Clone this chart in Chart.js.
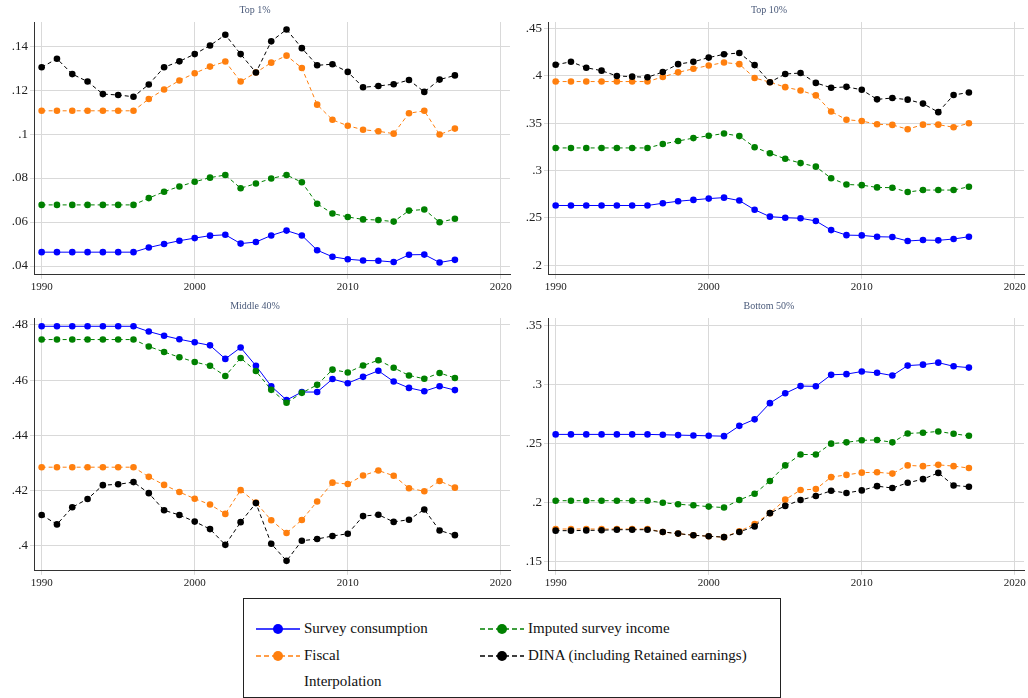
<!DOCTYPE html>
<html>
<head>
<meta charset="utf-8">
<script src="https://cdn.jsdelivr.net/npm/chart.js@4"></script>
<style>
  body { margin: 0; background: #fff; font-family: "Liberation Serif", "Times New Roman", Tinos, "DejaVu Serif", serif; }
  .panel { position: absolute; width: 514px; height: 296px; }
  #legend { position: absolute; left: 243px; top: 598px; width: 536px; height: 98px; border: 1px solid #222; font-size: 15px; color: #111; }
  .item { position: absolute; display: flex; align-items: center; }
  .item svg { margin-right: 4px; }
</style>
</head>
<body>
<div class="panel" style="left:0;top:0"><canvas id="c1"></canvas></div>
<div class="panel" style="left:514px;top:0"><canvas id="c2"></canvas></div>
<div class="panel" style="left:0;top:296px"><canvas id="c3"></canvas></div>
<div class="panel" style="left:514px;top:296px"><canvas id="c4"></canvas></div>
<div id="legend"></div>
<script>
const years = Array.from({ length: 28 }, (_, i) => 1990 + i);
const xTicks = [1990, 2000, 2010, 2020];

// Top 1%
const top1Survey = [.0463,.0463,.0463,.0463,.0463,.0463,.0463,.0484,.05,.0515,.0527,.0538,.0542,.0502,.0509,.0539,.0561,.0539,.0472,.0442,.0431,.0425,.0424,.0418,.0451,.0452,.0416,.0428];
const top1Fiscal = [.1106,.1106,.1106,.1106,.1106,.1106,.1106,.116,.1203,.1244,.1277,.1307,.133,.1239,.128,.1325,.1357,.1301,.1134,.1065,.1038,.102,.1013,.1002,.1095,.1106,.0998,.1025];
const top1Imputed = [.0678,.0678,.0678,.0678,.0678,.0678,.0678,.0709,.0738,.0762,.0783,.0802,.0814,.0754,.0775,.0798,.0814,.0781,.0683,.0639,.0623,.0612,.0609,.0602,.0652,.0657,.0599,.0615];
const top1Dina = [.1304,.1343,.1273,.1239,.1182,.1178,.117,.1226,.1304,.1331,.1364,.1403,.1452,.1364,.128,.1422,.1476,.1391,.1313,.1318,.1283,.1213,.1219,.1227,.1246,.1192,.1248,.1267];
const top1Ticks = [.04, .06, .08, .1, .12, .14];

// Top 10%
const top10Survey = [.2632,.2632,.2632,.2632,.2632,.2632,.2632,.2656,.2677,.2691,.2705,.2715,.2684,.2587,.2514,.2503,.2497,.2469,.2372,.2319,.2316,.2302,.2299,.2257,.2267,.2264,.2278,.2302];
const top10Fiscal = [.3941,.3941,.3941,.3941,.3941,.3941,.3941,.399,.4038,.4076,.4111,.4142,.4125,.3979,.3934,.3882,.3847,.3795,.3625,.3538,.3524,.349,.3483,.3438,.3486,.3486,.3458,.35];
const top10Imputed = [.324,.324,.324,.324,.324,.324,.324,.3281,.3313,.3344,.3368,.3392,.3365,.3247,.3184,.3125,.308,.3042,.292,.2854,.2847,.2823,.282,.2774,.2795,.2795,.2795,.283];
const top10Dina = [.4118,.415,.4087,.4056,.4,.3993,.3986,.4042,.4125,.415,.4194,.4229,.4243,.4115,.3934,.4021,.4031,.3927,.3875,.3885,.3854,.3753,.3767,.375,.3708,.3618,.3799,.3826];
const top10Ticks = [.2, .25, .3, .35, .4, .45];

// Middle 40%
const midSurvey = [.4795,.4795,.4795,.4795,.4795,.4795,.4795,.4776,.4761,.4748,.4737,.4726,.4677,.4718,.4652,.4578,.4528,.4557,.4557,.4604,.4589,.4612,.4634,.4595,.4572,.456,.4578,.4564];
const midFiscal = [.4285,.4285,.4285,.4285,.4285,.4285,.4285,.425,.4221,.4195,.4171,.415,.4116,.4202,.4157,.4093,.4047,.4094,.4161,.4229,.4224,.4255,.4273,.4254,.4209,.4198,.4235,.4211];
const midImputed = [.4747,.4747,.4747,.4747,.4747,.4747,.4747,.4722,.4702,.4683,.4666,.4652,.4615,.468,.4633,.4565,.4518,.4554,.4583,.4638,.4628,.4653,.4672,.4645,.4617,.4605,.4626,.4608];
const midDina = [.4112,.4078,.414,.417,.422,.4223,.4231,.4191,.4129,.4112,.4088,.4061,.4004,.4086,.4155,.4008,.3946,.4019,.4025,.4036,.4044,.4108,.4113,.4087,.4095,.4132,.4056,.4039];
const midTicks = [.4, .42, .44, .46, .48];

// Bottom 50%
const botSurvey = [.2577,.2577,.2577,.2577,.2577,.2577,.2577,.2574,.2571,.2568,.2565,.2562,.2649,.2704,.2841,.2924,.2985,.2983,.308,.3086,.3108,.3097,.3074,.3158,.3166,.3183,.3152,.3141];
const botFiscal = [.1778,.1778,.1778,.1778,.1778,.1778,.1778,.1753,.1739,.1725,.1717,.1709,.1759,.182,.1912,.2026,.2107,.2115,.2216,.2235,.2254,.2257,.2246,.2315,.2309,.232,.2309,.2293];
const botImputed = [.2017,.2017,.2017,.2017,.2017,.2017,.2017,.2,.1987,.1978,.1967,.1959,.2023,.2076,.2184,.2315,.2407,.2407,.2499,.251,.2527,.253,.251,.2585,.2591,.2602,.2582,.2565];
const botDina = [.1764,.1764,.1766,.1768,.1772,.1772,.1772,.1753,.1739,.1725,.1717,.1709,.1753,.18,.1912,.1973,.2023,.2057,.2101,.2082,.2104,.214,.2124,.2168,.2199,.2252,.2146,.2135];
const botTicks = [.15, .2, .25, .3, .35];

const COLORS = { survey: "#0000ff", fiscal: "#ff7f0e", imputed: "#008000", dina: "#000000" };
const FONT = "'Liberation Serif', 'Times New Roman', Tinos, 'DejaVu Serif', serif";

function series(data, color, dashed) {
  return {
    data: data.map((v, i) => ({ x: years[i], y: v })),
    borderColor: color,
    backgroundColor: color,
    borderWidth: 1,
    borderDash: dashed ? [4, 3] : [],
    pointRadius: 3.3,
    pointBorderWidth: 0,
    tension: 0,
  };
}

function fmtTick(v) {
  return String(+v.toFixed(3)).replace(/^0\./, ".");
}

function makePanel(id, title, survey, fiscal, imputed, dina, ticks, min, max) {
  new Chart(document.getElementById(id), {
    type: "line",
    data: {
      datasets: [
        series(dina, COLORS.dina, true),
        series(fiscal, COLORS.fiscal, true),
        series(imputed, COLORS.imputed, true),
        series(survey, COLORS.survey, false),
      ],
    },
    options: {
      animation: false,
      responsive: false,
      layout: { padding: { right: 4, top: 2 } },
      plugins: {
        legend: { display: false },
        tooltip: { enabled: false },
        title: {
          display: true, text: title, color: "#4a5a7a",
          font: { family: FONT, size: 10, weight: "normal" }, padding: { top: 2, bottom: 6 },
        },
      },
      scales: {
        x: {
          type: "linear", min: 1989.5, max: 2020.6,
          afterBuildTicks: s => { s.ticks = xTicks.map(v => ({ value: v })); },
          ticks: { color: "#222", font: { family: FONT, size: 11 }, callback: v => v, maxRotation: 0, padding: 2 },
          grid: { color: "#d9d9d9", drawTicks: true, tickLength: 4 },
          border: { color: "#333" },
        },
        y: {
          min, max,
          afterBuildTicks: s => { s.ticks = ticks.map(v => ({ value: v })); },
          afterFit: s => { s.width = 34; },
          ticks: { color: "#222", font: { family: FONT, size: 13 }, callback: fmtTick, padding: 2 },
          grid: { color: "#d9d9d9", tickLength: 4 },
          border: { color: "#333" },
        },
      },
    },
  });
}

for (const id of ["c1", "c2", "c3", "c4"]) {
  const c = document.getElementById(id);
  c.width = 514; c.height = 296;
}
makePanel("c1", "Top 1%", top1Survey, top1Fiscal, top1Imputed, top1Dina, top1Ticks, .036, .151);
makePanel("c2", "Top 10%", top10Survey, top10Fiscal, top10Imputed, top10Dina, top10Ticks, .19, .457);
makePanel("c3", "Middle 40%", midSurvey, midFiscal, midImputed, midDina, midTicks, .391, .4825);
makePanel("c4", "Bottom 50%", botSurvey, botFiscal, botImputed, botDina, botTicks, .1425, .356);

// legend
const legendItems = [
  { label: "Survey consumption", color: COLORS.survey, dash: false, x: 12, y: 29 },
  { label: "Imputed survey income", color: COLORS.imputed, dash: true, x: 236, y: 29 },
  { label: "Fiscal", color: COLORS.fiscal, dash: true, x: 12, y: 56 },
  { label: "DINA (including Retained earnings)", color: COLORS.dina, dash: true, x: 236, y: 56 },
  { label: "Interpolation", color: null, x: 12, y: 82 },
];
document.getElementById("legend").innerHTML = legendItems.map(it => {
  const icon = it.color
    ? `<line x1="0" y1="8" x2="44" y2="8" stroke="${it.color}" stroke-width="1.6" ${it.dash ? 'stroke-dasharray="5,3"' : ""}/><circle cx="22" cy="8" r="5" fill="${it.color}"/>`
    : "";
  return `<div class="item" style="left:${it.x}px;top:${it.y - 8}px"><svg width="44" height="16">${icon}</svg>${it.label}</div>`;
}).join("");
</script>
</body>
</html>
